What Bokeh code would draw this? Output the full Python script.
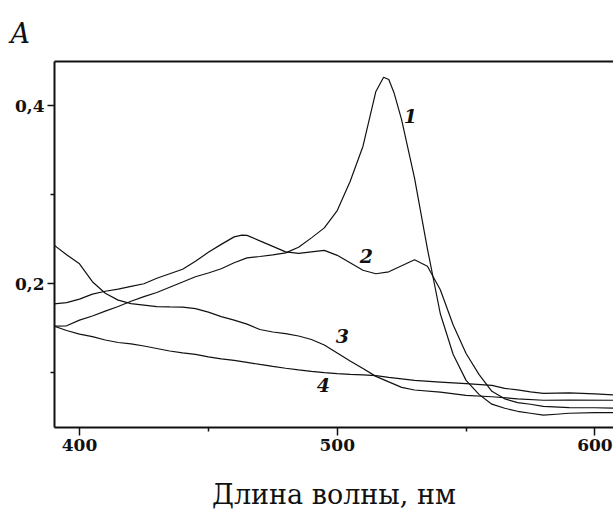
from bokeh.plotting import figure
from bokeh.models import (FixedTicker, LinearAxis, Range1d, Label, Title, CustomJSTickFormatter)
from bokeh.embed import file_html
from bokeh.resources import INLINE

# ---- data (wavelength, nm ; absorbance A) ----
wl1 = [390, 395, 400, 405, 410, 415, 420, 425, 430, 435, 440, 445, 450, 455, 460, 465, 470,
       475, 480, 485, 490, 495, 500, 505, 510, 515, 518, 520, 522, 525, 530, 535, 540, 545,
       550, 555, 560, 565, 570, 575, 580, 585, 590, 600, 608]
a1 = [0.1525, 0.153, 0.1594, 0.164, 0.1695, 0.1747, 0.1806, 0.1857, 0.1904, 0.1963, 0.2021,
      0.208, 0.2122, 0.217, 0.2237, 0.2293, 0.2308, 0.2327, 0.2349, 0.2411, 0.2517, 0.2629,
      0.2824, 0.3149, 0.3546, 0.4161, 0.4321, 0.4295, 0.415, 0.3842, 0.3188, 0.2394, 0.1665,
      0.1208, 0.0917, 0.076, 0.065, 0.0604, 0.057, 0.0548, 0.0526, 0.0537, 0.0548, 0.0554,
      0.0556]

wl2 = [390, 395, 400, 405, 410, 415, 420, 425, 430, 435, 440, 445, 450, 455, 460, 463, 465,
       470, 475, 480, 485, 490, 495, 500, 505, 510, 515, 520, 525, 530, 535, 540, 545, 550,
       555, 560, 565, 570, 575, 580, 590, 600, 608]
a2 = [0.1775, 0.179, 0.1829, 0.1885, 0.1918, 0.1941, 0.1972, 0.2002, 0.2064, 0.2114, 0.2164,
      0.2254, 0.2355, 0.2444, 0.2528, 0.2547, 0.2545, 0.2483, 0.2422, 0.236, 0.2343, 0.236,
      0.2377, 0.2321, 0.2237, 0.2153, 0.2114, 0.2136, 0.2204, 0.2271, 0.2198, 0.1935, 0.1538,
      0.1219, 0.0984, 0.0794, 0.071, 0.0668, 0.0649, 0.0626, 0.0612, 0.061, 0.0606]

wl3 = [390, 395, 400, 405, 410, 415, 420, 425, 430, 435, 440, 445, 450, 455, 460, 465, 470,
       475, 480, 485, 490, 495, 500, 505, 510, 515, 520, 525, 530, 540, 550, 560, 570, 580,
       590, 608]
a3 = [0.2438, 0.2327, 0.2226, 0.2025, 0.1896, 0.1818, 0.1779, 0.1762, 0.1745, 0.1742, 0.174,
      0.1723, 0.1683, 0.1633, 0.1594, 0.1549, 0.1488, 0.146, 0.1441, 0.1415, 0.1376, 0.1314,
      0.1225, 0.1135, 0.1051, 0.0962, 0.09, 0.0839, 0.0809, 0.0786, 0.0749, 0.0733, 0.071,
      0.0694, 0.0697, 0.0694]

wl4 = [390, 395, 400, 405, 410, 415, 420, 425, 430, 435, 440, 445, 450, 455, 460, 465, 470,
       475, 480, 485, 490, 495, 500, 505, 510, 515, 520, 525, 530, 540, 550, 560, 565, 570,
       575, 580, 590, 600, 608]
a4 = [0.1527, 0.1477, 0.1437, 0.1409, 0.137, 0.1342, 0.1326, 0.1303, 0.1275, 0.1247, 0.1225,
      0.1208, 0.118, 0.1158, 0.1141, 0.1119, 0.1096, 0.1074, 0.1053, 0.1035, 0.1018, 0.1003,
      0.0992, 0.0984, 0.0978, 0.097, 0.0951, 0.0934, 0.0917, 0.0898, 0.088, 0.0861, 0.0827,
      0.0811, 0.0789, 0.0772, 0.0777, 0.0766, 0.0753]

curve_names = ["1", "2", "3", "4"]
label_x = [528.4, 511.3, 502.0, 494.6]
label_y = [0.389, 0.2315, 0.142, 0.0861]

x_ticks = [400, 500, 600]
x_minor = [450, 550]
y_ticks = [0.2, 0.4]
y_minor = [0.1, 0.3]
x_title = "Длина волны, нм"
y_title = "A"

SERIF = "DejaVu Serif"
INK = "#111111"

p = figure(width=613, height=512, output_backend="svg", toolbar_location=None,
           x_range=Range1d(390.3, 607.2), y_range=Range1d(0.0388, 0.4497),
           x_axis_location=None, y_axis_location=None,
           min_border_left=54, min_border_right=0, min_border_top=61, min_border_bottom=84)
p.outline_line_color = None
p.xgrid.visible = False
p.ygrid.visible = False
p.background_fill_color = "white"
p.border_fill_color = "white"

p.title = Title(text=y_title, align="left", offset=-44, standoff=21, vertical_align="top",
                text_font=SERIF, text_font_style="italic", text_font_size="27px",
                text_color=INK)

fmt = CustomJSTickFormatter(code="return tick.toFixed(1).replace('.', ',');")

xax = LinearAxis(ticker=FixedTicker(ticks=x_ticks, minor_ticks=x_minor))
xax.axis_line_width = 2
xax.axis_line_color = INK
xax.major_tick_in = 0
xax.major_tick_out = 8
xax.minor_tick_in = 0
xax.minor_tick_out = 4
xax.major_tick_line_width = 1.5
xax.minor_tick_line_width = 1.5
xax.major_tick_line_color = INK
xax.minor_tick_line_color = INK
xax.major_label_text_font = SERIF
xax.major_label_text_font_size = "17px"
xax.major_label_text_font_style = "bold"
xax.major_label_text_color = INK
xax.major_label_standoff = 3
xax.axis_label = x_title
xax.axis_label_text_font = SERIF
xax.axis_label_text_font_style = "normal"
xax.axis_label_text_font_size = "27px"
xax.axis_label_text_color = INK
xax.axis_label_standoff = 25
p.add_layout(xax, "below")

yax = LinearAxis(ticker=FixedTicker(ticks=y_ticks, minor_ticks=y_minor), formatter=fmt)
yax.axis_line_width = 2
yax.axis_line_color = INK
yax.major_tick_in = 0
yax.major_tick_out = 7
yax.minor_tick_in = 0
yax.minor_tick_out = 4
yax.major_tick_line_width = 1.5
yax.minor_tick_line_width = 1.5
yax.major_tick_line_color = INK
yax.minor_tick_line_color = INK
yax.major_label_text_font = SERIF
yax.major_label_text_font_size = "17px"
yax.major_label_text_font_style = "bold"
yax.major_label_text_color = INK
yax.major_label_standoff = 3
p.add_layout(yax, "left")

top = LinearAxis(ticker=FixedTicker(ticks=[]))
top.axis_line_width = 2
top.axis_line_color = INK
top.major_tick_line_color = None
top.minor_tick_line_color = None
top.major_label_text_font_size = "0px"
p.add_layout(top, "above")

for xs, ys in [(wl1, a1), (wl2, a2), (wl3, a3), (wl4, a4)]:
    p.line(xs, ys, line_color=INK, line_width=1.2)

for name, lx, ly in zip(curve_names, label_x, label_y):
    p.add_layout(Label(x=lx, y=ly, text=name, text_font=SERIF, text_font_style="bold italic",
                       text_font_size="19px", text_color=INK, text_align="center",
                       text_baseline="middle"))

open("out.html", "w").write(file_html(p, INLINE))
